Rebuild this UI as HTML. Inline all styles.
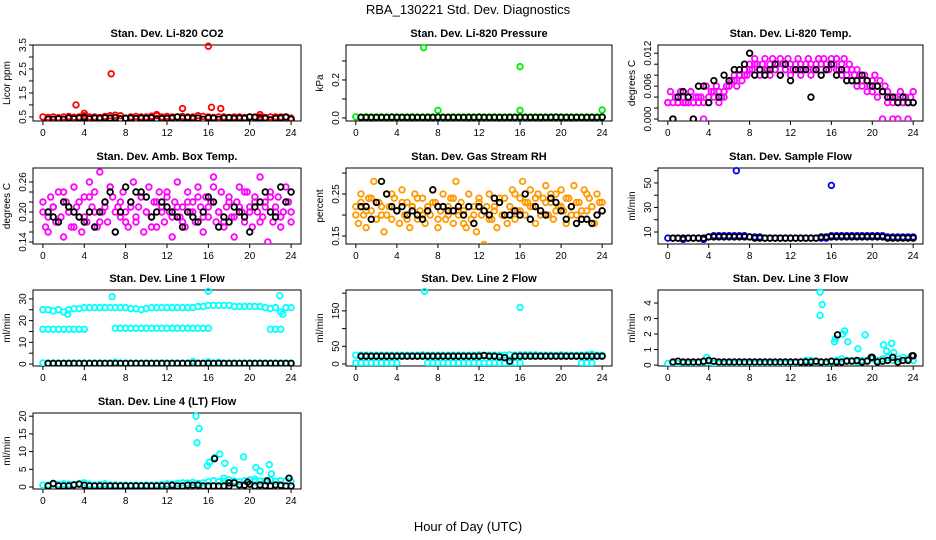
<!DOCTYPE html>
<html><head><meta charset="utf-8">
<style>
html,body{margin:0;padding:0;background:#fff;}
svg{display:block;font-family:"Liberation Sans",sans-serif;}
</style></head>
<body>
<svg id="chart" width="936" height="540" viewBox="0 0 936 540" xmlns="http://www.w3.org/2000/svg">
<text x="468" y="14" text-anchor="middle" font-size="13">RBA_130221  Std. Dev. Diagnostics</text>
<text x="468" y="531" text-anchor="middle" font-size="13">Hour of Day (UTC)</text>
</svg>
<script>
const xTicks = [0,4,8,12,16,20,24];

const co2Red = [0.5,0.48,0.5,0.47,0.5,0.52,0.49,0.5,0.55,0.5,0.5,0.48,0.52,0.55,0.57,0.55,0.45,0.5,0.52,0.5,0.5,0.53,0.55,0.5,0.52,0.5,0.5,0.52,0.5,0.5,0.55,0.52,0.5,0.48,0.5,0.5,0.48,0.5,0.5,0.48,0.5,0.5,0.5,0.48,0.5,0.5,0.5,0.48,0.45];
const co2Black = [0.4,0.4,0.42,0.4,0.45,0.42,0.45,0.48,0.42,0.45,0.44,0.46,0.45,0.47,0.42,0.44,0.45,0.43,0.45,0.44,0.46,0.42,0.43,0.44,0.45,0.5,0.45,0.47,0.44,0.45,0.4,0.46,0.45,0.4,0.45,0.47,0.44,0.45,0.44,0.5,0.48,0.45,0.44,0.38,0.44,0.45,0.5,0.4];
const co2OutX = [3.2,6.6,13.5,16,16.3,17.2,4,11,21];
const co2OutY = [1.0,2.3,0.85,3.45,0.9,0.85,0.65,0.6,0.6];

const presGreen = [0.006,0.005,0.006,0.005,0.005,0.006,0.005,0.005,0.006,0.005,0.005,0.006,0.005,0.005,0.006,0.005,0.006,0.005,0.005,0.006,0.005,0.005,0.006,0.005,0.006,0.005,0.005,0.006,0.005,0.005,0.006,0.005,0.006,0.005,0.005,0.006,0.005,0.005,0.006,0.005,0.006,0.005,0.005,0.006,0.005,0.005,0.006,0.005,0.006];
const presBlack = [0.003,0.003,0.003,0.003,0.003,0.003,0.004,0.003,0.003,0.003,0.003,0.003,0.003,0.003,0.003,0.004,0.003,0.003,0.003,0.003,0.003,0.003,0.003,0.004,0.003,0.003,0.003,0.003,0.003,0.003,0.003,0.004,0.003,0.003,0.003,0.003,0.003,0.003,0.004,0.003,0.003,0.003,0.003,0.003,0.003,0.003,0.003,0.004];
const presOutX = [6.6,16,8,16,24];
const presOutY = [0.37,0.27,0.04,0.04,0.042];

const tempMag = [0.003,0.005,0.003,0.004,0.003,0.005,0.004,0.003,0.004,0.005,0.003,0.004,0.004,
0.004,0.003,0.006,0.004,0.005,0.004,0.006,0.005,0.004,0.005,0.006,0.007,
0.007,0.008,0.006,0.008,0.007,0.009,0.008,0.010,0.009,0.011,0.010,0.009,
0.010,0.011,0.009,0.010,0.011,0.009,0.010,0.011,0.010,0.009,0.011,0.010,
0.009,0.010,0.011,0.010,0.009,0.010,0.011,0.010,0.009,0.010,0.011,0.010,
0.011,0.010,0.009,0.011,0.010,0.011,0.009,0.010,0.011,0.009,0.010,0.009,
0.008,0.009,0.008,0.007,0.008,0.007,0.006,0.007,0.008,0.006,0.007,0.005,
0.006,0.005,0.004,0.003,0.004,0.003,0.005,0.003,0.004,0.003,0.004,0.005];
const tempMag2 = [0.003,0,0.003,0.003,0.003,0,0.003,0,0.003,0.005,0.003,0.004,0.006,0.007,0.008,0.008,0.009,0.010,0.008,0.009,0.008,0.009,0.008,0.009,0.008,0.009,0.008,0.009,0.008,0.009,0.008,0.009,0.010,0.009,0.008,0.008,0.007,0.006,0.006,0.005,0.005,0.004,0,0.003,0,0,0.003,0,0.003];
const tempBlack = [0,0.004,0.005,0.004,0,0.006,0.006,0.003,0.007,0.004,0.008,0.007,0.009,0.009,0.010,0.012,0.008,0.009,0.008,0.009,0.010,0.008,0.010,0.007,0.009,0.009,0.009,0.004,0.009,0.008,0.009,0.010,0.008,0.009,0.007,0.007,0.007,0.008,0.007,0.006,0.006,0.005,0.004,0.004,0.003,0.004,0.003,0.003];

const ambMag = [0.20,0.17,0.16,0.23,0.21,0.18,0.24,0.19,0.15,0.22,0.20,0.17,0.25,0.21,0.19,0.16,0.23,0.18,0.26,0.21,0.24,0.17,0.28,0.20,0.22,0.18,0.25,0.23,0.16,0.21,0.19,0.24,0.20,0.17,0.22,0.26,0.18,0.21,0.23,0.16,0.20,0.25,0.19,0.22,0.17,0.24,0.21,0.18,0.23,0.20,0.15,0.22,0.26,0.19,0.21,0.17,0.24,0.20,0.22,0.18,0.25,0.21,0.16,0.23,0.19,0.22,0.27,0.18,0.20,0.24,0.17,0.21,0.23,0.19,0.15,0.22,0.25,0.20,0.18,0.24,0.21,0.17,0.23,0.20,0.27,0.19,0.22,0.14,0.24,0.18,0.21,0.23,0.17,0.20,0.25,0.22,0.18];
const ambMag2 = [0.22,0.19,0.21,0.18,0.24,0.2,0.17,0.22,0.19,0.23,0.2,0.18,0.21,0.25,0.2,0.22,0.18,0.21,0.19,0.23,0.2,0.17,0.22,0.2,0.24,0.19,0.21,0.18,0.22,0.2,0.23,0.19,0.21,0.25,0.2,0.18,0.22,0.19,0.21,0.24,0.2,0.22,0.18,0.21,0.23,0.2,0.19,0.22,0.2];
const ambBlack = [0.2,0.19,0.18,0.22,0.21,0.2,0.19,0.18,0.2,0.17,0.2,0.22,0.24,0.16,0.2,0.25,0.22,0.24,0.24,0.23,0.19,0.2,0.22,0.21,0.2,0.19,0.17,0.2,0.19,0.18,0.2,0.23,0.22,0.17,0.19,0.18,0.21,0.2,0.19,0.16,0.21,0.22,0.24,0.2,0.19,0.25,0.22,0.24];

const rhOrange = [0.22,0.18,0.25,0.2,0.17,0.24,0.21,0.28,0.19,0.23,0.2,0.16,0.25,0.22,0.19,0.24,0.21,0.18,0.26,0.2,0.23,0.17,0.22,0.25,0.19,0.21,0.24,0.18,0.22,0.2,0.26,0.23,0.17,0.21,0.25,0.19,0.22,0.24,0.18,0.28,0.2,0.23,0.21,0.17,0.25,0.19,0.22,0.16,0.24,0.2,0.13,0.22,0.25,0.19,0.21,0.17,0.23,0.2,0.24,0.18,0.22,0.26,0.19,0.21,0.24,0.28,0.2,0.23,0.26,0.22,0.18,0.25,0.21,0.24,0.27,0.2,0.23,0.19,0.25,0.22,0.26,0.21,0.18,0.24,0.22,0.27,0.2,0.23,0.19,0.26,0.21,0.24,0.22,0.18,0.25,0.23,0.21];
const rhOrange2 = [0.2,0.23,0.21,0.24,0.19,0.22,0.2,0.25,0.21,0.23,0.19,0.22,0.24,0.2,0.21,0.23,0.19,0.22,0.2,0.24,0.21,0.18,0.22,0.2,0.23,0.21,0.19,0.22,0.24,0.2,0.22,0.25,0.21,0.23,0.22,0.24,0.2,0.23,0.25,0.21,0.22,0.24,0.2,0.23,0.21,0.25,0.22,0.2,0.23];
const rhBlack = [0.22,0.22,0.19,0.23,0.28,0.25,0.22,0.21,0.22,0.2,0.21,0.2,0.19,0.21,0.26,0.22,0.22,0.21,0.21,0.22,0.2,0.22,0.18,0.22,0.21,0.2,0.24,0.23,0.2,0.2,0.21,0.2,0.25,0.19,0.22,0.21,0.2,0.24,0.23,0.21,0.19,0.22,0.18,0.19,0.19,0.18,0.2,0.21];

const flowBlue = [5,5,5,4,5,5,5,4,6,7,7,7,7,7,7,7,6,6,6,5,5,5,5,5,5,5,5,5,5,5,5,5,7,7,7,7,7,7,7,7,7,7,7,6,6,6,6,6,6];
const flowBlack = [5,5,5,5,5,5,5,6,6,6,6,6,6,6,6,6,5,5,5,5,5,5,5,5,5,5,5,5,5,6,6,6,6,6,6,6,6,6,6,6,6,6,5,5,5,5,5,5];
const flowOutX = [6.7,16];
const flowOutY = [60,48];

const l1Upper = [25,25,24.5,25,24,25,25.5,25.5,26,26,26,26,26,26,26,26,26,25.5,25.5,25,25.5,26,26,26,26,26,26,26,26,26,26.5,26.5,27,27,27,27,27,26.5,26.5,26.5,26.5,26.5,26.5,26,25.5,26,24,26,26];
const l1Lower = [16,16,16,16,16,16,16,16,16,null,null,null,null,null,16.5,16.5,16.5,16.5,16.5,16.5,16.5,16.5,16.5,16.5,16.5,16.5,16.5,16.5,16.5,16.5,16.5,16.5,16.5,null,null,null,null,null,null,null,null,null,null,null,16,16,16,null,null];
const l1Zero = [0.5,0.5,0.5,0.5,0.5,0.5,0.5,0.5,0.5,0.5,0.5,0.5,0.5,0.5,0.8,0.5,0.5,0.5,0.5,0.5,0.5,0.5,0.5,0.5,0.5,0.5,0.5,0.5,0.5,1.2,0.5,0.5,1,0.5,0.8,0.5,0.5,0.5,0.5,0.5,0.5,0.5,0.5,0.5,0.5,0.5,0.5,0.5,0.5];
const l1Black = [0.3,0.3,0.3,0.3,0.3,0.3,0.3,0.3,0.3,0.3,0.3,0.3,0.3,0.3,0.3,0.3,0.3,0.3,0.3,0.3,0.3,0.3,0.3,0.3,0.3,0.3,0.3,0.3,0.3,0.3,0.3,0.3,0.3,0.3,0.3,0.3,0.3,0.3,0.3,0.3,0.3,0.3,0.3,0.3,0.3,0.3,0.3,0.3];
const l1OutX = [6.7,16,22.9,2.4,23.2];
const l1OutY = [31,33.5,31.5,23,23];

const l2Upper = [25,25,25,25,25,25,25,25,25,25,25,25,25,26,25,25,25,25,25,25,25,25,25,25,26,25,25,25,25,25,26,25,26,26,26,26,25,25,25,25,26,25,25,25,25,26,28,25,25];
const l2Lower = [3,3,3,3,3,3,3,3,3,null,null,null,null,null,3,3,3,3,3,3,3,3,3,3,3,3,3,3,3,3,3,3,3,null,null,null,null,null,null,null,null,null,null,null,3,3,3,null,null];
const l2Black = [22,22,22,22,22,22,22,22,22,22,22,22,22,22,22,22,22,22,22,22,22,22,22,22,24,22,22,20,18,8,22,22,22,22,22,22,22,22,22,22,22,22,22,22,22,22,22,22];
const l2OutX = [6.7,16];
const l2OutY = [205,160];

const l3Cyan = [0.1,0.15,0.1,0.15,0.1,0.1,0.15,0.2,0.25,0.1,0.1,0.1,0.15,0.1,0.1,0.1,0.1,0.1,0.1,0.1,0.1,0.1,0.1,0.1,0.1,0.15,0.2,0.3,0.3,0.2,0.2,0.1,0.2,0.3,0.4,0.3,0.3,0.2,0.3,0.3,0.4,0.3,0.4,0.5,0.3,0.4,0.5,0.4,0.3];
const l3Black = [0.2,0.25,0.2,0.2,0.2,0.2,0.25,0.3,0.25,0.2,0.2,0.2,0.2,0.2,0.2,0.2,0.2,0.2,0.2,0.2,0.2,0.2,0.2,0.2,0.2,0.2,0.2,0.2,0.25,0.2,0.2,0.25,0.2,0.2,0.25,0.25,0.3,0.2,0.25,0.5,0.2,0.25,0.3,0.5,0.2,0.3,0.3,0.6];
const l3OutX = [14.9,15.1,14.9,16.3,16.4,17.1,17.3,17.6,18.6,19.3,21.1,21.4,21.9,22.1,3.8];
const l3OutY = [4.7,3.9,3.2,1.5,1.7,2.0,2.2,1.5,1.05,1.95,1.3,0.9,1.4,0.8,0.5];
const l3BlkX = [16.6,19.9,23.9];
const l3BlkY = [1.95,0.5,0.6];

const l4Cyan = [0.5,0.6,0.8,0.7,0.9,0.8,0.7,1.0,1.2,0.8,0.6,0.7,0.9,0.6,0.6,0.5,0.6,0.5,0.6,0.5,0.6,0.5,0.6,0.7,0.9,0.8,1.0,1.2,1.1,1.3,1.0,1.2,1.5,1.8,1.5,1.6,2.0,1.7,1.5,1.8,2.0,1.5,1.7,1.8,2.0,1.6,1.8,1.7,1.5];
const l4Black = [0.3,1.0,0.3,0.3,0.3,0.6,0.8,0.5,0.3,0.3,0.3,0.3,0.3,0.3,0.3,0.3,0.3,0.3,0.3,0.3,0.3,0.3,0.3,0.3,0.5,0.3,0.3,0.5,0.5,0.5,0.3,0.3,0.3,0.3,0.3,0.3,1.2,0.6,0.5,0.8,0.3,0.6,0.4,0.3,0.6,0.5,0.3,0.3];
const l4OutX = [14.8,14.9,15.1,15.9,16.1,16.6,17.1,17.6,18.5,19.4,20.6,21,21.9,22.1,17.5,20.5];
const l4OutY = [20,12.5,16.5,6,7,8.3,9.3,6.7,4.7,8.5,5.5,4.5,6.3,3.7,2.5,2.2];
const l4BlkX = [16.6,18,19.8,21.7,23.8];
const l4BlkY = [8,1.2,1.4,1.7,2.5];

const co2Ticks=[0.5,1,1.5,2,2.5,3,3.5], co2Labels=[0.5,1.5,2.5,3.5];
const presTicks=[0,0.1,0.2,0.3], presLabels=["0.0","0.2"];
const tempTicks=[0,0.002,0.004,0.006,0.008,0.010,0.012], tempLabels=["0.000","0.006","0.012"];
const ambTicks=[0.14,0.16,0.18,0.20,0.22,0.24,0.26], ambLabels=["0.14","0.20","0.26"];
const rhTicks=[0.15,0.2,0.25,0.3], rhLabels=["0.15","0.25"];
const flowTicks=[10,20,30,40,50,60], flowLabels=["10","30","50"];
const l1Ticks=[0,5,10,15,20,25,30], l1Labels=["0","10","20","30"];
const l2Ticks=[0,50,100,150,200], l2Labels=["0","50","150"];
const l3Ticks=[0,1,2,3,4], l3Labels=["0","1","2","3","4"];
const l4Ticks=[0,5,10,15,20], l4Labels=["0","5","10","15","20"];

const NS="http://www.w3.org/2000/svg";
const svg=document.getElementById('chart');
const cols=[{l:33,r:301},{l:346,r:612},{l:658,r:923}];
const rows=[{t:45,b:121},{t:168,b:244},{t:290,b:366},{t:413,b:489}];

function mk(tag,attrs,parent){const e=document.createElementNS(NS,tag);for(const k in attrs)e.setAttribute(k,attrs[k]);(parent||svg).appendChild(e);return e;}

function panel(name,title,ylab,col,row,ylo,yhi,ticks,labels){
  const c=cols[col],r=rows[row];
  const g=mk('g',{});
  
  
  const xs=h=>c.l+(c.r-c.l)*((h+0.96)/25.92);
  const ys=v=>r.b-(r.b-r.t)*((v-ylo)/(yhi-ylo));
  const box=mk('rect',{x:c.l,y:r.t,width:c.r-c.l,height:r.b-r.t,fill:'none',stroke:'#000','stroke-width':1},g);
  
  
  const t=mk('text',{x:(c.l+c.r)/2,y:r.t-8,'text-anchor':'middle','font-size':11,'font-weight':'bold'},g);
  t.textContent=title;
  
  
  const yl=mk('text',{transform:`translate(${c.l-23},${(r.t+r.b)/2}) rotate(-90)`,'text-anchor':'middle','font-size':10},g);
  yl.textContent=ylab;
  
  
  const xa=mk('g',{},g);
  
  
  mk('line',{x1:xs(0),x2:xs(24),y1:r.b,y2:r.b,stroke:'#000'},xa);
  xTicks.forEach(v=>{
    mk('line',{x1:xs(v),x2:xs(v),y1:r.b,y2:r.b+4,stroke:'#000'},xa);
    const tl=mk('text',{x:xs(v),y:r.b+15,'text-anchor':'middle','font-size':10},xa);
    tl.textContent=v;
    
    
  });
  const ya=mk('g',{},g);
  
  
  mk('line',{x1:c.l,x2:c.l,y1:ys(ticks[0]),y2:ys(ticks[ticks.length-1]),stroke:'#000'},ya);
  ticks.forEach(v=>mk('line',{x1:c.l-4,x2:c.l,y1:ys(v),y2:ys(v),stroke:'#000'},ya));
  labels.forEach(v=>{
    const tl=mk('text',{transform:`translate(${c.l-7},${ys(+v)}) rotate(-90)`,'text-anchor':'middle','font-size':10},ya);
    tl.textContent=v;
    
    
  });
  const clip='clip-'+name;
  const cp=mk('clipPath',{id:clip},g);
  mk('rect',{x:c.l,y:r.t-3,width:c.r-c.l,height:r.b-r.t+3},cp);
  const pts=mk('g',{'clip-path':`url(#${clip})`},g);
  return {
    seq(vals,start,color,sname){
      const s=mk('g',{fill:'none',stroke:color,'stroke-width':1.8},pts);
      
      
      const step=(24-start)/(vals.length-1);
      vals.forEach((v,i)=>{ if(v===null)return;
        const p=mk('circle',{cx:xs(start+i*step),cy:ys(v),r:2.8},s);
        
        
      });
    },
    pairs(hx,vy,color,sname){
      const s=mk('g',{fill:'none',stroke:color,'stroke-width':1.8},pts);
      
      
      hx.forEach((h,i)=>{
        const p=mk('circle',{cx:xs(h),cy:ys(vy[i]),r:2.8},s);
        
        
      });
    }
  };
}
const RED='#ff0000',GRN='#00ee00',MAG='#ff00ff',ORG='#ff9900',BLU='#0000ee',CYN='#00ffff',BLK='#000';

let p=panel('co2','Stan. Dev. Li-820 CO2','Licor ppm',0,0,0.33,3.5,co2Ticks,co2Labels);
p.seq(co2Red,0,RED,'red-series');p.pairs(co2OutX,co2OutY,RED,'red-outliers');p.seq(co2Black,0.5,BLK,'black-series');

p=panel('pressure','Stan. Dev. Li-820 Pressure','kPa',1,0,-0.016,0.384,presTicks,presLabels);
p.seq(presGreen,0,GRN,'green-series');p.pairs(presOutX,presOutY,GRN,'green-outliers');p.seq(presBlack,0.5,BLK,'black-series');

p=panel('temp','Stan. Dev. Li-820 Temp.','degrees C',2,0,-0.00036,0.0135,tempTicks,tempLabels);
p.seq(tempMag,0,MAG,'magenta-series');p.seq(tempMag2,0,MAG,'magenta-series-2');p.seq(tempBlack,0.5,BLK,'black-series');

p=panel('amb','Stan. Dev. Amb. Box Temp.','degrees C',0,1,0.136,0.288,ambTicks,ambLabels);
p.seq(ambMag,0,MAG,'magenta-series');p.seq(ambMag2,0,MAG,'magenta-series-2');p.seq(ambBlack,0.5,BLK,'black-series');

p=panel('rh','Stan. Dev. Gas Stream RH','percent',1,1,0.131,0.312,rhTicks,rhLabels);
p.seq(rhOrange,0,ORG,'orange-series');p.seq(rhOrange2,0,ORG,'orange-series-2');p.seq(rhBlack,0.5,BLK,'black-series');

p=panel('sampleflow','Stan. Dev. Sample Flow','ml/min',2,1,0.2,62.2,flowTicks,flowLabels);
p.seq(flowBlue,0,BLU,'blue-series');p.pairs(flowOutX,flowOutY,BLU,'blue-outliers');p.seq(flowBlack,0.5,BLK,'black-series');

p=panel('line1','Stan. Dev. Line 1 Flow','ml/min',0,2,-0.9,34.1,l1Ticks,l1Labels);
p.seq(l1Upper,0,CYN,'cyan-upper');p.seq(l1Lower,0,CYN,'cyan-lower');p.seq(l1Zero,0,CYN,'cyan-zero');p.pairs(l1OutX,l1OutY,CYN,'cyan-outliers');p.seq(l1Black,0.5,BLK,'black-series');

p=panel('line2','Stan. Dev. Line 2 Flow','ml/min',1,2,-5.6,209,l2Ticks,l2Labels);
p.seq(l2Upper,0,CYN,'cyan-upper');p.seq(l2Lower,0,CYN,'cyan-lower');p.pairs(l2OutX,l2OutY,CYN,'cyan-outliers');p.seq(l2Black,0.5,BLK,'black-series');

p=panel('line3','Stan. Dev. Line 3 Flow','ml/min',2,2,-0.06,4.84,l3Ticks,l3Labels);
p.seq(l3Cyan,0,CYN,'cyan-series');p.pairs(l3OutX,l3OutY,CYN,'cyan-outliers');p.seq(l3Black,0.5,BLK,'black-series');p.pairs(l3BlkX,l3BlkY,BLK,'black-outliers');

p=panel('line4','Stan. Dev. Line 4 (LT) Flow','ml/min',0,3,-0.56,20.9,l4Ticks,l4Labels);
p.seq(l4Cyan,0,CYN,'cyan-series');p.pairs(l4OutX,l4OutY,CYN,'cyan-outliers');p.seq(l4Black,0.5,BLK,'black-series');p.pairs(l4BlkX,l4BlkY,BLK,'black-outliers');
</script>
</body></html>
